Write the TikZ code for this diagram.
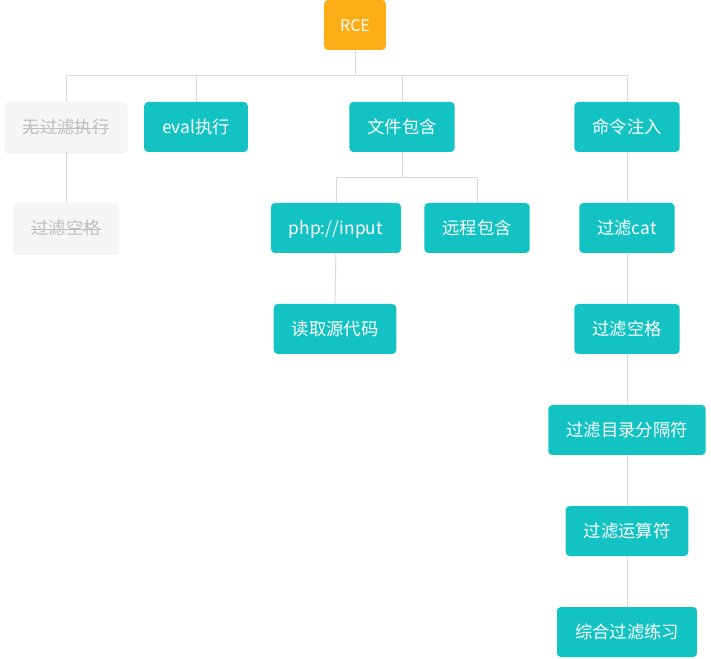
\documentclass[tikz,border=0pt]{standalone}
\usepackage{fontspec}
\setmainfont{Noto Sans CJK SC}
\usepackage{xcolor}
\usetikzlibrary{positioning, calc, shadows}

\definecolor{tealbox}{HTML}{13C2C2}
\definecolor{goldbox}{HTML}{FAAD14}
\definecolor{greybox}{HTML}{F5F5F5}
\definecolor{greytext}{HTML}{BFBFBF}
\definecolor{linkgrey}{HTML}{D9D9D9}

% struck-out text for finished items
\newcommand{\strikeit}[1]{\setbox0\hbox{#1}\rlap{\rule[0.3em]{\wd0}{0.6pt}}\box0}

\tikzset{
  topic/.style={rounded corners=3pt, minimum height=37.5pt, inner xsep=13.5pt,
    text height=12pt, text depth=2pt,
    font=\fontsize{13}{15}\selectfont, text=white, fill=tealbox},
  root/.style={topic, fill=goldbox, inner xsep=12pt, text height=11pt, text depth=1.5pt,
    font=\fontsize{12}{14}\selectfont},
  doneitem/.style={topic, fill=greybox, text=greytext,
    drop shadow={opacity=0.12, shadow xshift=0pt, shadow yshift=-1.2pt}},
  link/.style={draw=linkgrey, line width=0.75pt}
}

\begin{document}
\begin{tikzpicture}[x=0.75pt, y=-0.75pt]
  \useasboundingbox (0,0) rectangle (711,659);

  % Root
  \node[root] (rce) at (355,25) {RCE};

  % First level
  \node[doneitem] (wugl) at (66,127) {\strikeit{无过滤执行}};
  \node[topic] (eval) at (196,127) {eval执行};
  \node[topic] (wjbh) at (402,127) {文件包含};
  \node[topic] (mlzr) at (627,127) {命令注入};

  % Second level
  \node[doneitem] (glkg1) at (66,228) {\strikeit{过滤空格}};
  \node[topic] (phpin) at (336,228) {php://input};
  \node[topic] (ycbh) at (477,228) {远程包含};
  \node[topic] (glcat) at (627,228) {过滤cat};

  % Deeper levels
  \node[topic] (dqydm) at (335,329) {读取源代码};
  \node[topic] (glkg2) at (627,329) {过滤空格};
  \node[topic] (glml) at (627,430) {过滤目录分隔符};
  \node[topic] (glys) at (627,531) {过滤运算符};
  \node[topic] (zhlx) at (627,632) {综合过滤练习};

  % Connectors from root
  \coordinate (bus1) at (355,76);
  \draw[link] (rce.south) -- (bus1);
  \draw[link] (wugl.north) |- (bus1);
  \draw[link] (eval.north) |- (bus1);
  \draw[link] (wjbh.north) |- (bus1);
  \draw[link] (mlzr.north) |- (bus1);

  % File include branch
  \coordinate (bus2) at (402,178);
  \draw[link] (wjbh.south) -- (bus2);
  \draw[link] (phpin.north) |- (bus2);
  \draw[link] (ycbh.north) |- (bus2);
  \draw[link] (phpin.south) -- (dqydm.north);

  % Other chains
  \draw[link] (wugl.south) -- (glkg1.north);
  \draw[link] (mlzr.south) -- (glcat.north);
  \draw[link] (glcat.south) -- (glkg2.north);
  \draw[link] (glkg2.south) -- (glml.north);
  \draw[link] (glml.south) -- (glys.north);
  \draw[link] (glys.south) -- (zhlx.north);
\end{tikzpicture}
\end{document}
